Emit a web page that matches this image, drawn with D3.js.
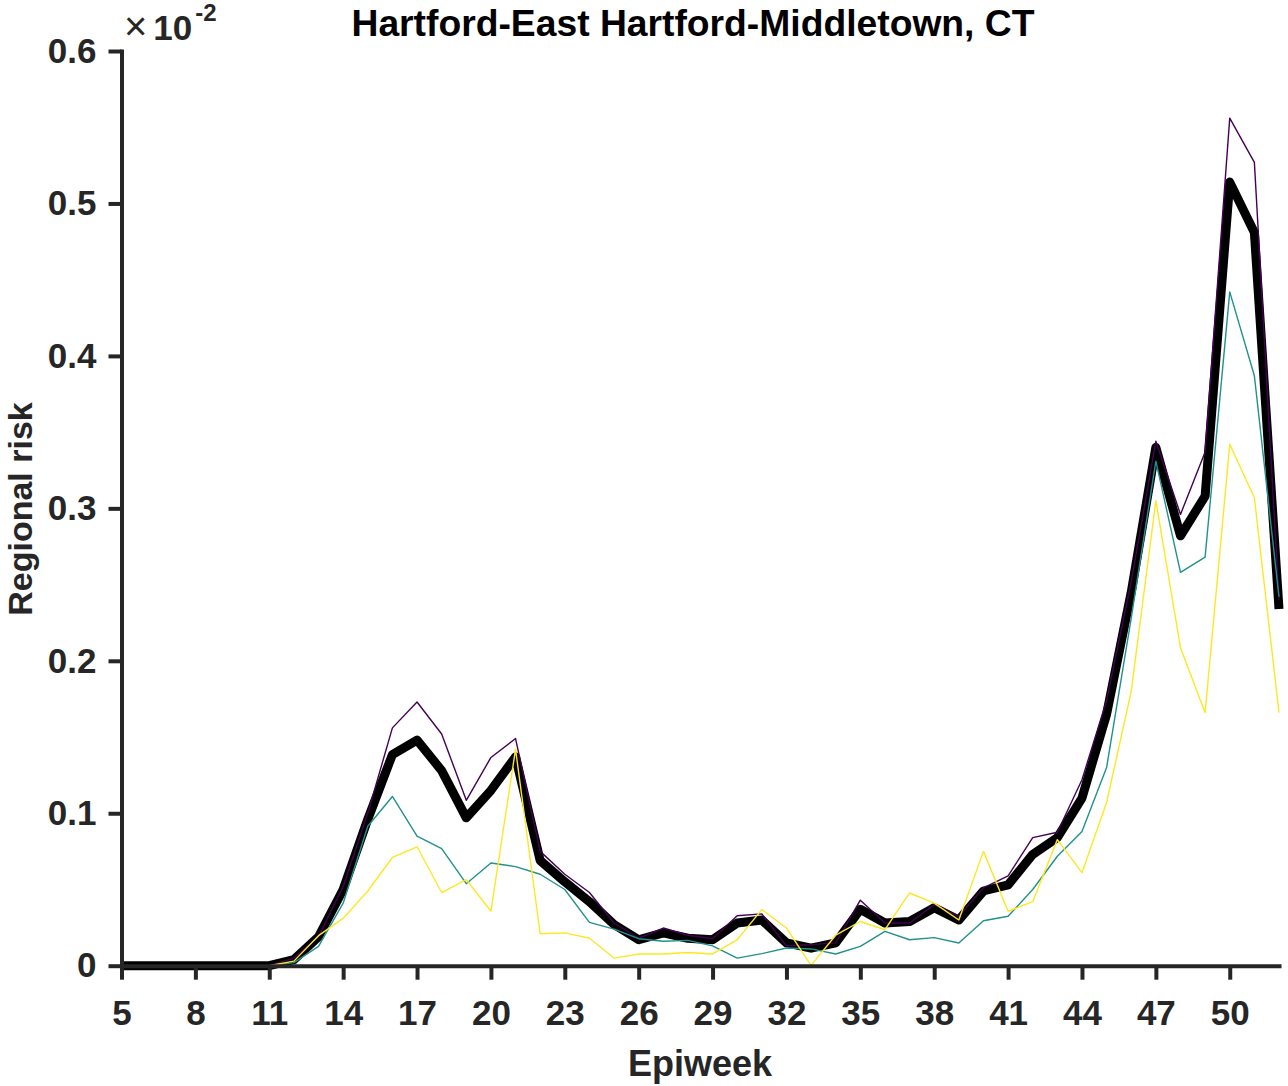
<!DOCTYPE html>
<html>
<head>
<meta charset="utf-8">
<script src="https://cdn.jsdelivr.net/npm/d3@7"></script>
<style>
  html, body { margin: 0; padding: 0; background: #ffffff; }
  svg { display: block; font-family: "Liberation Sans", Arial, Helvetica, sans-serif; }
</style>
</head>
<body>
<svg id="chart" width="1288" height="1086"></svg>
<script>
// ---- data (values in units of 10^-2) ----
const weeks = d3.range(5, 53);
const meanRisk = [0,0,0,0,0,0,0, 0.004,0.019,0.050,0.096,0.1385,0.148,0.128,0.097,0.115,0.137,0.069,0.055,0.042,0.027,0.017,0.0215,0.018,0.017,0.028,0.030,0.015,0.0115,0.015,0.037,0.028,0.029,0.038,0.030,0.049,0.053,0.073,0.084,0.110,0.165,0.245,0.340,0.282,0.308,0.514,0.481,0.234];
const purpleRisk = [0,0,0,0,0,0,0, 0.005,0.019,0.052,0.100,0.156,0.173,0.152,0.1085,0.1366,0.149,0.075,0.060,0.048,0.028,0.018,0.0247,0.020,0.0177,0.0328,0.034,0.013,0.0138,0.015,0.043,0.028,0.028,0.040,0.0324,0.051,0.059,0.084,0.0875,0.122,0.174,0.252,0.344,0.296,0.337,0.556,0.527,0.240];
const tealRisk = [0,0,0,0,0,0,0, 0.002,0.0127,0.041,0.0915,0.111,0.085,0.0768,0.0538,0.0674,0.065,0.060,0.050,0.0284,0.024,0.0177,0.016,0.0166,0.013,0.005,0.0079,0.0116,0.011,0.0077,0.0127,0.0225,0.017,0.0184,0.0149,0.0295,0.0324,0.050,0.0718,0.088,0.130,0.228,0.331,0.258,0.268,0.442,0.387,0.242];
const yellowRisk = [0,0,0,0,0,0,0, 0.003,0.0197,0.031,0.049,0.071,0.078,0.048,0.0565,0.0357,0.142,0.021,0.0215,0.018,0.005,0.0077,0.0077,0.0087,0.0077,0.017,0.0368,0.0247,0.0002,0.020,0.029,0.0236,0.0477,0.041,0.030,0.075,0.0357,0.042,0.0827,0.061,0.107,0.180,0.305,0.2086,0.166,0.342,0.307,0.166];
const xTicks = [5,8,11,14,17,20,23,26,29,32,35,38,41,44,47,50];
const yTicks = [0,0.1,0.2,0.3,0.4,0.5,0.6];
const titleText = "Hartford-East Hartford-Middletown, CT";
const xLabel = "Epiweek";
const yLabel = "Regional risk";

// ---- drawing ----
const svg = d3.select("#chart");
const x = d3.scaleLinear().domain([5, 52]).range([121.5, 1279]);
const y = d3.scaleLinear().domain([0, 0.6]).range([965.7, 51]);
const axisColor = "#262626";

const plot = svg.append("g");
const lineGen = vals => d3.line().x((d, i) => x(weeks[i])).y(d => y(d))(vals);

const series = [
  { vals: meanRisk, color: "#000000", width: 9 },
  { vals: purpleRisk, color: "#440154", width: 1.4 },
  { vals: tealRisk, color: "#21918c", width: 1.4 },
  { vals: yellowRisk, color: "#fde725", width: 1.4 }
];
series.forEach(s => {
  plot.append("path")
    .attr("d", lineGen(s.vals))
    .attr("fill", "none")
    .attr("stroke", s.color)
    .attr("stroke-width", s.width)
    .attr("stroke-linejoin", "round")
    .attr("stroke-linecap", "butt");
});

// axes
const xAxis = d3.axisBottom(x).tickValues(xTicks).tickFormat(d3.format("d"))
  .tickSize(14).tickSizeOuter(0).tickPadding(20);
const yAxis = d3.axisLeft(y).tickValues(yTicks)
  .tickFormat(d => d === 0 ? "0" : d.toFixed(1))
  .tickSize(13).tickSizeOuter(0).tickPadding(12);

const gx = svg.append("g").attr("transform", `translate(0,${y(0)})`).call(xAxis);
const gy = svg.append("g").attr("transform", `translate(${x(5)},0)`).call(yAxis);

[gx, gy].forEach(g => {
  g.select(".domain").attr("stroke", axisColor).attr("stroke-width", 4).attr("stroke-linecap", "square");
  g.selectAll(".tick line").attr("stroke", axisColor).attr("stroke-width", 4);
  g.selectAll(".tick text")
    .attr("fill", axisColor)
    .attr("font-size", 35)
    .attr("font-weight", "bold")
    .attr("font-family", "'Liberation Sans', Arial, Helvetica, sans-serif");
});

// title
svg.append("text")
  .attr("x", 693).attr("y", 36)
  .attr("text-anchor", "middle")
  .attr("font-size", 36).attr("font-weight", "bold")
  .attr("fill", "#000000")
  .attr("textLength", 683).attr("lengthAdjust", "spacingAndGlyphs")
  .text(titleText);

// x label
svg.append("text")
  .attr("x", 700).attr("y", 1076)
  .attr("text-anchor", "middle")
  .attr("font-size", 36).attr("font-weight", "bold")
  .attr("fill", axisColor)
  .text(xLabel);

// y label
svg.append("text")
  .attr("transform", "translate(32,509) rotate(-90)")
  .attr("text-anchor", "middle")
  .attr("font-size", 34).attr("font-weight", "bold")
  .attr("fill", axisColor)
  .text(yLabel);

// exponent label
const ex = svg.append("text").attr("x", 124).attr("y", 40).attr("fill", axisColor);
ex.append("tspan").attr("font-size", 40).attr("font-weight", "normal").text("\u00d7");
ex.append("tspan").attr("dx", 6).attr("font-size", 35).attr("font-weight", "bold").text("10");
ex.append("tspan").attr("dx", 3).attr("dy", -19).attr("font-size", 24).attr("font-weight", "bold").text("-2");
</script>
</body>
</html>
